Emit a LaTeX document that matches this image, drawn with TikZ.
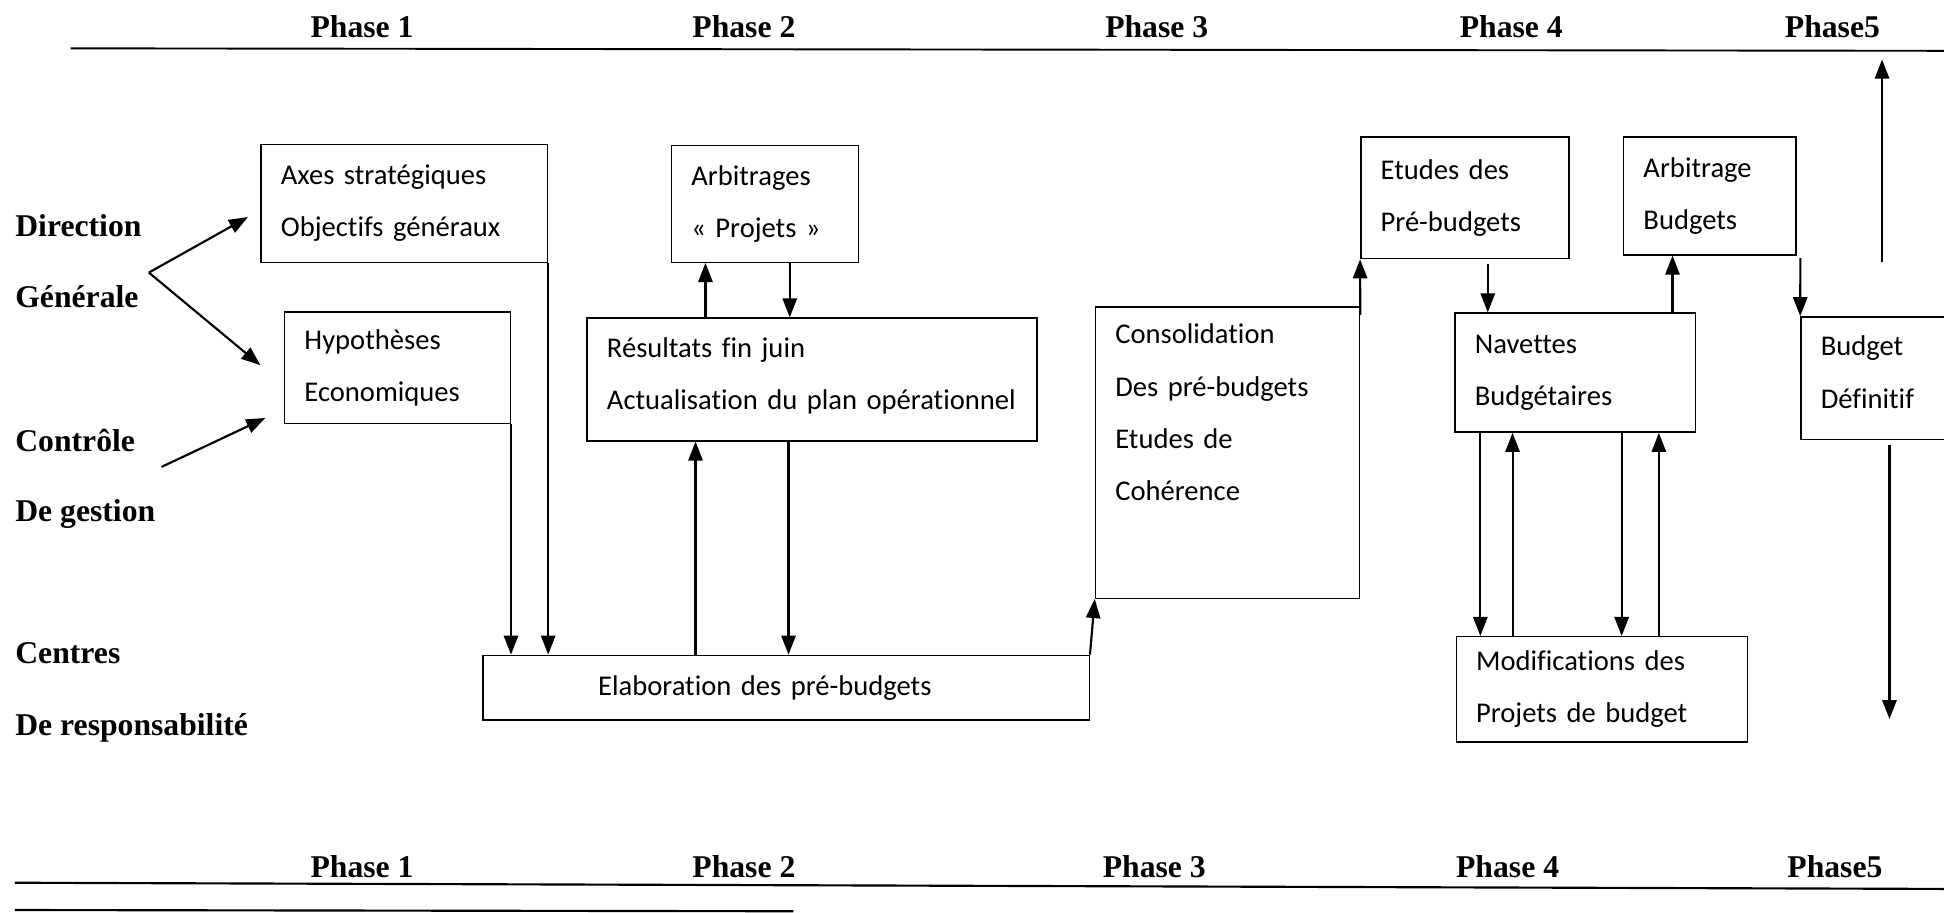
\documentclass[tikz,border=0pt]{standalone}
\usepackage{fontspec}
\setmainfont{Liberation Serif}
\newfontfamily\boxfont[Ligatures=NoCommon]{Carlito}
\usetikzlibrary{arrows.meta,positioning,calc}
\newcommand{\upx}{0.0183cm}
\tikzstyle{box} = [draw,line width=0.6pt,anchor=north west,align=left,inner xsep=16*\upx,inner ysep=0pt,font=\boxfont\fontsize{12}{21.9}\selectfont]
\tikzstyle{lbl} = [anchor=base west,inner sep=0pt,font=\bfseries\fontsize{13.3}{16}\selectfont]
\tikzstyle{phase} = [anchor=base,inner sep=0pt,font=\bfseries\fontsize{13.3}{16}\selectfont]
\tikzstyle{arr} = [-{Triangle[length=8pt,width=6pt]},line width=0.9pt]

\begin{document}
\begin{tikzpicture}[x=0.0183cm,y=-0.0183cm]
  \useasboundingbox (0,0) rectangle (1568,736);
  % phases (top)
  \node[phase] (ph1) at (292,30) {Phase 1};
  \node[phase] (ph2) at (600,30) {Phase 2};
  \node[phase] (ph3) at (933,30) {Phase 3};
  \node[phase] (ph4) at (1219,30) {Phase 4};
  \node[phase] (ph5) at (1478,30) {Phase5};
  \draw[line width=0.8pt] (57,39) -- (1568,41);
  % actors
  \node[lbl] (dir) at (12,191) {Direction};
  \node[lbl] (gen) at (12,248) {Générale};
  \node[lbl] (ctrl) at (12,364) {Contrôle};
  \node[lbl] (gest) at (12,421) {De gestion};
  \node[lbl] (cent) at (12,535) {Centres};
  \node[lbl] (resp) at (12,593) {De responsabilité};
  % boxes
  \node[box,text width=199*\upx,minimum height=95*\upx] (axes) at (210,116) {Axes stratégiques\\Objectifs généraux};
  \node[box,text width=150*\upx,minimum height=90*\upx] (hyp) at (229,251) {Hypothèses\\Economiques};
  \node[box,text width=119*\upx,minimum height=94*\upx] (arb) at (541,117) {Arbitrages\\« Projets »};
  \node[box,text width=331*\upx,minimum height=99*\upx] (res) at (473,256) {Résultats fin juin\\Actualisation du plan opérationnel\\[-16.7pt]\mbox{}};
  \node[box,text width=457*\upx,minimum height=52*\upx] (elab) at (389,528) {\hspace*{40pt}Elaboration des pré-budgets};
  \node[box,text width=181*\upx,minimum height=235*\upx] (cons) at (883,247) {Consolidation\\Des pré-budgets\\Etudes de\\Cohérence\\[12pt]\mbox{}};
  \node[box,text width=136*\upx,minimum height=98*\upx] (etu) at (1097,110) {Etudes des\\Pré-budgets};
  \node[box,text width=107*\upx,minimum height=95*\upx] (arbb) at (1309,110) {Arbitrage\\Budgets};
  \node[box,text width=162*\upx,minimum height=96*\upx] (nav) at (1173,252) {Navettes\\Budgétaires};
  \node[box,text width=203*\upx,minimum height=85*\upx] (modif) at (1174,513) {Modifications des\\Projets de budget};
  \node[box,text width=148*\upx,minimum height=99*\upx] (bdef) at (1452,255) {Budget\\Définitif\\[-16.7pt]\mbox{}};
  % arrows from the actors
  \draw[arr] ($(gen.north east)+(8,-10)$) -- ($(axes.west)+(-10,11)$);
  \draw[arr] ($(gen.north east)+(8,-10)$) -- ($(hyp.west)+(-19,-2)$);
  \draw[arr] ($(ctrl.south east)+(21,12)$) -- ($(hyp.south west)+(-15,-5)$);
  % phase 1 and 2
  \draw[arr] (axes.south east) -- (axes.south east |- elab.north);
  \draw[arr] (hyp.south east) -- (hyp.south east |- elab.north);
  \coordinate (r1) at ($(res.north west)+(96,0)$);
  \coordinate (r2) at ($(arb.south west)+(96,0)$);
  \coordinate (r3) at ($(elab.north west)+(172,0)$);
  \coordinate (r4) at ($(res.south west)+(163,0)$);
  \draw[arr] (r1) -- (r1 |- arb.south);
  \draw[arr] (r2) -- (r2 |- res.north);
  \draw[arr] (r3) -- (r3 |- res.south);
  \draw[arr] (r4) -- (r4 |- elab.north);
  % phase 3 and 4
  \draw[arr] (elab.north east) -- (cons.south west);
  \draw[arr] ($(cons.north east)+(0,7)$) -- (etu.south west);
  \coordinate (n1) at ($(etu.south west)+(103,4)$);
  \coordinate (n2) at ($(nav.north west)+(176,0)$);
  \draw[arr] (n1) -- (n1 |- nav.north);
  \draw[arr] (n2) -- (n2 |- arbb.south);
  \coordinate (m1) at ($(nav.south west)+(21,0)$);
  \coordinate (m2) at ($(modif.north west)+(46,0)$);
  \coordinate (m3) at ($(nav.south west)+(135,0)$);
  \coordinate (m4) at ($(modif.north west)+(164,0)$);
  \draw[arr] (m1) -- (m1 |- modif.north);
  \draw[arr] (m2) -- (m2 |- nav.south);
  \draw[arr] (m3) -- (m3 |- modif.north);
  \draw[arr] (m4) -- (m4 |- nav.south);
  % phase 5
  \draw[arr] ($(arbb.south east)+(3,2)$) -- (bdef.north west);
  \coordinate (up1) at (1518,211);
  \coordinate (up2) at (1518,48);
  \draw[arr] (up1) -- (up2);
  \coordinate (dn1) at ($(bdef.south west)+(72,4)$);
  \coordinate (dn2) at (1524,580);
  \draw[arr] (dn1) -- (dn2);
  % phases (bottom)
  \node[phase] (bph1) at (292,708) {Phase 1};
  \node[phase] (bph2) at (600,708) {Phase 2};
  \node[phase] (bph3) at (931,708) {Phase 3};
  \node[phase] (bph4) at (1216,708) {Phase 4};
  \node[phase] (bph5) at (1480,708) {Phase5};
  \draw[line width=0.9pt] (12,712) -- (1568,717);
  \draw[line width=0.9pt] (12,734) -- (640,735);
\end{tikzpicture}
\end{document}
